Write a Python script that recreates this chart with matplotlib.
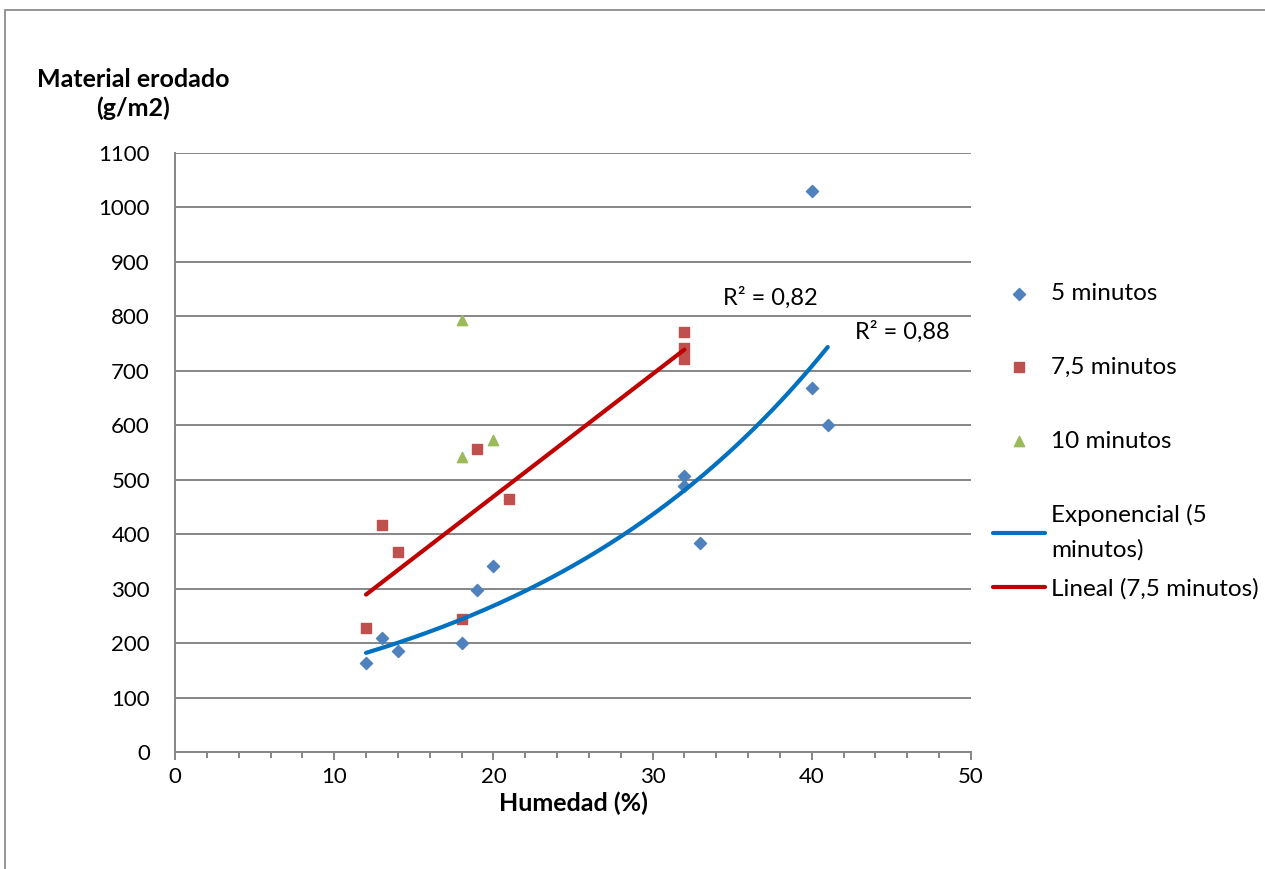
import matplotlib.pyplot as plt
import numpy as np
from matplotlib.patches import Rectangle
from matplotlib.ticker import MultipleLocator

plt.rcParams['font.family'] = ['Lato', 'DejaVu Sans']

# humedad (%) vs material erodado (g/m2), por tiempo de ensayo
hum_5 = [12, 13, 14, 18, 19, 20, 32, 32, 33, 40, 40, 41]
mat_5 = [164, 209, 185, 201, 298, 341, 507, 488, 383, 1031, 668, 600]

hum_75 = [12, 13, 14, 18, 19, 21, 32, 32, 32]
mat_75 = [228, 417, 367, 245, 557, 464, 772, 742, 722]

hum_10 = [18, 18, 20]
mat_10 = [794, 542, 573]

r2_labels = ["R² = 0,82", "R² = 0,88"]

blue = "#4F81BD"
red = "#C0504D"
green = "#9BBB59"
grid_grey = "#868686"

fig = plt.figure(figsize=(12.65, 8.69), dpi=100)
ax = fig.add_axes([175 / 1265, 1 - 752 / 869, (971 - 175) / 1265, (752 - 153) / 869])

# outer chart border (Excel style)
fig.patches.append(Rectangle((5 / 1265, -0.1), 2, 1.1 - 10 / 869, transform=fig.transFigure,
                             fill=False, edgecolor="#8c8c8c", linewidth=1.3))

ax.scatter(hum_5, mat_5, marker="D", s=38, color=blue, zorder=3, label="5 minutos")
ax.scatter(hum_75, mat_75, marker="s", s=55, color=red, zorder=3, label="7,5 minutos")
ax.scatter(hum_10, mat_10, marker="^", s=55, color=green, zorder=3, label="10 minutos")

# trendlines
b, ln_a = np.polyfit(hum_5, np.log(mat_5), 1)
x_exp = np.linspace(min(hum_5), max(hum_5), 200)
ax.plot(x_exp, np.exp(ln_a) * np.exp(b * x_exp), color="#0070C0", lw=3, zorder=4,
        solid_capstyle="round", label="Exponencial (5\nminutos)")

m, c = np.polyfit(hum_75, mat_75, 1)
x_lin = np.array([min(hum_75), max(hum_75)])
ax.plot(x_lin, m * x_lin + c, color="#C00000", lw=3, zorder=4,
        solid_capstyle="round", label="Lineal (7,5 minutos)")

ax.text(37.4, 834, r2_labels[0], fontsize=17, ha="center", va="center")
ax.text(45.7, 771, r2_labels[1], fontsize=17, ha="center", va="center")

ax.set_xlim(0, 50)
ax.set_ylim(0, 1100)
ax.xaxis.set_major_locator(MultipleLocator(10))
ax.xaxis.set_minor_locator(MultipleLocator(2))
ax.yaxis.set_major_locator(MultipleLocator(100))
ax.grid(axis="y", color=grid_grey, lw=1.4)
ax.set_axisbelow(True)

for side in ["top", "right"]:
    ax.spines[side].set_visible(False)
for side in ["left", "bottom"]:
    ax.spines[side].set_color(grid_grey)
    ax.spines[side].set_linewidth(1.4)

ax.tick_params(axis="x", which="major", length=6, width=1.4, color=grid_grey,
               labelsize=16, pad=5)
ax.tick_params(axis="x", which="minor", length=4.5, width=1.4, color=grid_grey)
ax.tick_params(axis="y", length=0, labelsize=16, pad=18)

ax.set_xlabel("Humedad (%)", fontsize=18, fontweight="bold", labelpad=3)
fig.text(133 / 1265, 1 - 94 / 869, "Material erodado\n(g/m2)", fontsize=18,
         fontweight="bold", ha="center", va="center", linespacing=1.28)

# legend: the series and the exponential trend, then the linear trend below
handles, labels = ax.get_legend_handles_labels()
leg_kw = dict(bbox_transform=fig.transFigure, frameon=False, fontsize=17.5,
              handlelength=2.14, handletextpad=0.25, borderpad=0,
              borderaxespad=0, scatterpoints=1)
leg1 = ax.legend(handles[:4], labels[:4], loc="upper left",
                 bbox_to_anchor=(993 / 1265, 1 - 283 / 869), labelspacing=2.17, **leg_kw)
leg1.get_texts()[3].set_linespacing(1.75)
ax.add_artist(leg1)
ax.legend(handles[4:], labels[4:], loc="center left",
          bbox_to_anchor=(993 / 1265, 1 - 589 / 869), **leg_kw)

fig.savefig("out.png", dpi=100)
